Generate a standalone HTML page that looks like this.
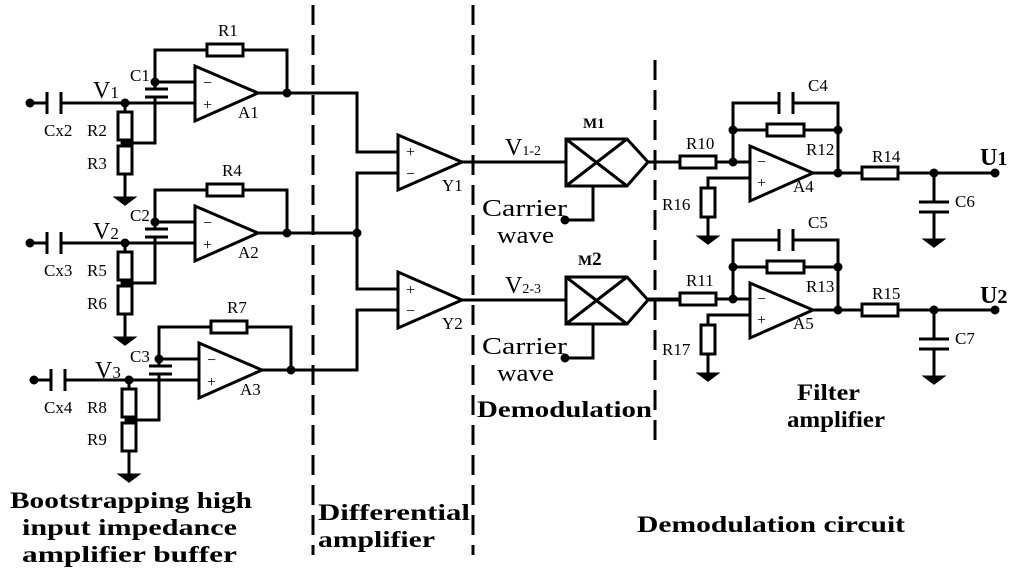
<!DOCTYPE html>
<html><head><meta charset="utf-8"><style>
html,body{margin:0;padding:0;background:#fff;}
svg{display:block}
text{font-family:"Liberation Serif",serif;fill:#000}
.b{font-weight:bold}
</style></head><body>
<svg width="1024" height="575" viewBox="0 0 1024 575" xmlns="http://www.w3.org/2000/svg">
<defs>
<g id="gnd"><line x1="0" y1="0" x2="0" y2="20" stroke="#000" stroke-width="3"/><path d="M-8 20 H8 L0 26 Z" fill="#000"/></g>
<g id="stage" stroke="#000" stroke-width="3" fill="none">
  <circle cx="30" cy="103" r="3" fill="#000"/>
  <line x1="30" y1="103" x2="47" y2="103"/>
  <line x1="47" y1="92" x2="47" y2="114"/>
  <line x1="61" y1="92" x2="61" y2="114"/>
  <line x1="61" y1="103" x2="195" y2="103"/>
  <circle cx="125" cy="103" r="3" fill="#000"/>
  <line x1="125" y1="103" x2="125" y2="112"/>
  <rect x="118" y="112" width="14" height="28" fill="#fff"/>
  <line x1="125" y1="140" x2="125" y2="146"/>
  <circle cx="125" cy="143" r="3" fill="#000"/>
  <polyline points="125,143 155,143 155,97"/>
  <line x1="145" y1="97" x2="168" y2="97"/>
  <line x1="145" y1="89" x2="168" y2="89"/>
  <line x1="155" y1="89" x2="155" y2="82"/>
  <circle cx="155" cy="82" r="3" fill="#000"/>
  <line x1="155" y1="82" x2="195" y2="82"/>
  <polyline points="155,82 155,50 207,50"/>
  <rect x="207" y="44" width="36" height="12" fill="#fff"/>
  <polyline points="243,50 287,50 287,93"/>
  <rect x="118" y="146" width="14" height="28" fill="#fff"/>
  <line x1="125" y1="174" x2="125" y2="178"/>
  <use href="#gnd" x="125" y="178"/>
  <polygon points="195,66 195,121 258,93" fill="#fff"/>
  <line x1="258" y1="93" x2="287" y2="93"/>
  <circle cx="287" cy="93" r="3" fill="#000"/>
</g>
<g id="filt" stroke="#000" stroke-width="3" fill="none">
  <line x1="648" y1="162" x2="680" y2="162"/>
  <rect x="680" y="156" width="36" height="12" fill="#fff"/>
  <line x1="716" y1="162" x2="750" y2="162"/>
  <circle cx="733" cy="162" r="3" fill="#000"/>
  <polyline points="733,162 733,103 779,103"/>
  <line x1="779" y1="92" x2="779" y2="114"/>
  <line x1="793" y1="92" x2="793" y2="114"/>
  <polyline points="793,103 838,103 838,173"/>
  <circle cx="733" cy="130" r="3" fill="#000"/>
  <line x1="733" y1="130" x2="767" y2="130"/>
  <rect x="767" y="124" width="37" height="12" fill="#fff"/>
  <line x1="804" y1="130" x2="838" y2="130"/>
  <circle cx="838" cy="130" r="3" fill="#000"/>
  <polyline points="750,178 708,178 708,188"/>
  <rect x="701" y="188" width="14" height="29" fill="#fff"/>
  <use href="#gnd" x="708" y="217"/>
  <polygon points="750,146 750,201 813,173" fill="#fff"/>
  <line x1="813" y1="173" x2="862" y2="173"/>
  <circle cx="838" cy="173" r="3" fill="#000"/>
  <rect x="862" y="167" width="36" height="12" fill="#fff"/>
  <line x1="898" y1="173" x2="995" y2="173"/>
  <circle cx="934" cy="173" r="3" fill="#000"/>
  <circle cx="995" cy="173" r="3" fill="#000"/>
  <line x1="934" y1="173" x2="934" y2="202"/>
  <line x1="919" y1="202" x2="949" y2="202"/>
  <line x1="919" y1="212" x2="949" y2="212"/>
  <line x1="934" y1="212" x2="934" y2="220"/>
  <use href="#gnd" x="934" y="220"/>
</g>
<g id="mod" stroke="#000" stroke-width="3" fill="none">
  <line x1="462" y1="162" x2="566" y2="162"/>
  <path d="M566 139 H627 L648 162 L627 186 H566 Z"/>
  <line x1="566" y1="139" x2="627" y2="186"/>
  <line x1="566" y1="186" x2="627" y2="139"/>
  <line x1="648" y1="162" x2="680" y2="162"/>
  <polyline points="593,186 593,220 565,220"/>
  <circle cx="565" cy="220" r="3" fill="#000"/>
</g>
</defs>

<g stroke="#000" stroke-width="3" stroke-dasharray="20,10">
<line x1="313" y1="5" x2="313" y2="555"/>
<line x1="473" y1="5" x2="473" y2="555"/>
<line x1="655" y1="60" x2="655" y2="440"/>
</g>

<use href="#stage"/>
<use href="#stage" transform="translate(0,140)"/>
<use href="#stage" transform="translate(4,277)"/>

<g stroke="#000" stroke-width="3" fill="none">
  <polyline points="287,93 357,93 357,152 398,152"/>
  <line x1="287" y1="233" x2="357" y2="233"/>
  <circle cx="357" cy="233" r="3" fill="#000"/>
  <polyline points="398,173 357,173 357,289 398,289"/>
  <polyline points="291,370 357,370 357,310 398,310"/>
  <polygon points="398,135 398,190 462,162" fill="#fff"/>
  <polygon points="398,272 398,328 462,300" fill="#fff"/>
</g>
<use href="#mod"/>
<use href="#mod" transform="translate(0,138)"/>
<use href="#filt"/>
<use href="#filt" transform="translate(0,137)"/>

<g font-size="16">
<text x="203" y="88">−</text><text x="203" y="110">+</text>
<text x="203" y="228">−</text><text x="203" y="250">+</text>
<text x="207" y="365">−</text><text x="207" y="387">+</text>
<text x="406" y="157">+</text><text x="406" y="179">−</text>
<text x="406" y="295">+</text><text x="406" y="316">−</text>
<text x="757" y="167">−</text><text x="757" y="188">+</text>
<text x="757" y="304">−</text><text x="757" y="325">+</text>
</g>

<g font-size="17">
<text x="218" y="36">R1</text><text x="130" y="81">C1</text><text x="44" y="136">Cx2</text>
<text x="87" y="136">R2</text><text x="87" y="169">R3</text><text x="238" y="118">A1</text>
<text x="222" y="176">R4</text><text x="130" y="221">C2</text><text x="44" y="276">Cx3</text>
<text x="87" y="276">R5</text><text x="87" y="309">R6</text><text x="238" y="258">A2</text>
<text x="227" y="313">R7</text><text x="130" y="362">C3</text><text x="44" y="413">Cx4</text>
<text x="87" y="413">R8</text><text x="87" y="445">R9</text><text x="240" y="395">A3</text>
<text x="442" y="191">Y1</text><text x="442" y="329">Y2</text>
<text x="686" y="149">R10</text><text x="806" y="155">R12</text><text x="808" y="91">C4</text>
<text x="793" y="192">A4</text><text x="662" y="210">R16</text><text x="872" y="162">R14</text><text x="955" y="207">C6</text>
<text x="686" y="286">R11</text><text x="806" y="292">R13</text><text x="808" y="228">C5</text>
<text x="793" y="329">A5</text><text x="662" y="355">R17</text><text x="872" y="299">R15</text><text x="955" y="344">C7</text>
</g>
<g font-size="24">
<text x="93" y="98">V<tspan font-size="17">1</tspan></text>
<text x="93" y="239">V<tspan font-size="17">2</tspan></text>
<text x="95" y="378">V<tspan font-size="17">3</tspan></text>
<text x="505" y="155">V<tspan font-size="14">1-2</tspan></text>
<text x="505" y="293">V<tspan font-size="14">2-3</tspan></text>
<text x="482" y="216" textLength="85" lengthAdjust="spacingAndGlyphs">Carrier</text><text x="497" y="243" textLength="57" lengthAdjust="spacingAndGlyphs">wave</text>
<text x="482" y="354" textLength="85" lengthAdjust="spacingAndGlyphs">Carrier</text><text x="497" y="381" textLength="57" lengthAdjust="spacingAndGlyphs">wave</text>
</g>
<text x="583" y="128" font-size="15" class="b">M1</text>
<text x="578" y="265" font-size="15" class="b">M<tspan font-size="19">2</tspan></text>
<text x="980" y="165" font-size="24" class="b">U<tspan font-size="20">1</tspan></text>
<text x="980" y="303" font-size="24" class="b">U<tspan font-size="20">2</tspan></text>

<g font-size="23" class="b">
<text x="10" y="508" textLength="242" lengthAdjust="spacingAndGlyphs">Bootstrapping high</text>
<text x="22" y="535" textLength="215" lengthAdjust="spacingAndGlyphs">input impedance</text>
<text x="22" y="562" textLength="215" lengthAdjust="spacingAndGlyphs">amplifier buffer</text>
<text x="318" y="520" textLength="152" lengthAdjust="spacingAndGlyphs">Differential</text>
<text x="318" y="547" textLength="117" lengthAdjust="spacingAndGlyphs">amplifier</text>
<text x="477" y="417" textLength="175" lengthAdjust="spacingAndGlyphs">Demodulation</text>
<text x="797" y="400" textLength="63" lengthAdjust="spacingAndGlyphs">Filter</text>
<text x="787" y="427" textLength="98" lengthAdjust="spacingAndGlyphs">amplifier</text>
<text x="637" y="532" textLength="268" lengthAdjust="spacingAndGlyphs">Demodulation circuit</text>
</g>
</svg>
</body></html>
